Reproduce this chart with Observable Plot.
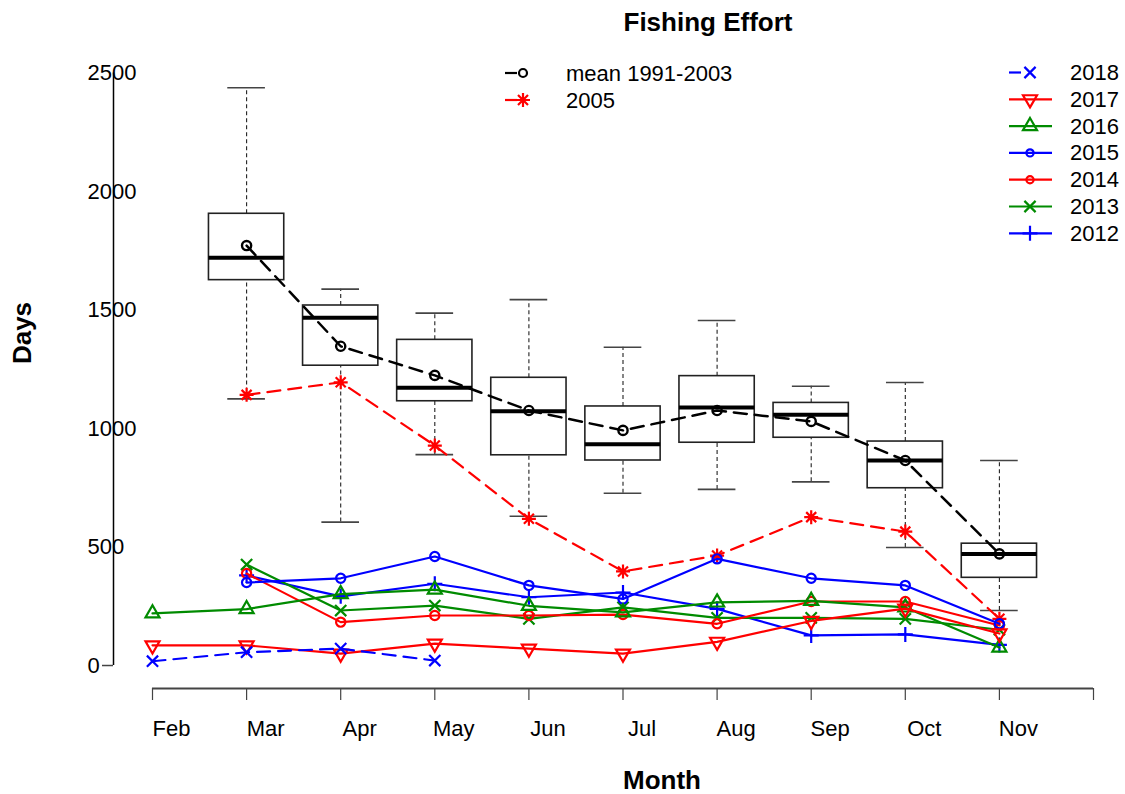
<!DOCTYPE html>
<html><head><meta charset="utf-8">
<script src="https://cdn.jsdelivr.net/npm/d3@7"></script>
<script src="https://cdn.jsdelivr.net/npm/@observablehq/plot@0.6"></script>
<style>
html,body{margin:0;padding:0;background:#fff;}
#wrap{position:relative;width:1125px;height:794px;overflow:hidden;}
#wrap svg{position:absolute;left:0;top:0;}
</style></head><body><div id="wrap"></div>
<script>
// ---------- data ----------
const months = ["Feb","Mar","Apr","May","Jun","Jul","Aug","Sep","Oct","Nov"];
const boxMonths = ["Mar","Apr","May","Jun","Jul","Aug","Sep","Oct","Nov"];
const boxMin    = [1125, 605, 890, 630, 727, 743, 775, 498, 232];
const boxQ1     = [1626,1265,1115, 887, 865, 940, 961, 748, 370];
const boxMedian = [1720,1467,1172,1073, 934,1089,1058, 865, 471];
const boxQ3     = [1906,1519,1374,1214,1093,1221,1108, 945, 514];
const boxMax    = [2438,1588,1487,1544,1343,1456,1178,1194, 865];
const mean9103  = [1772,1347,1224,1076, 992,1076,1030, 865, 471];
const effort2005= [1142,1195, 928, 619, 397, 464, 626, 565, 197];
// Feb..Nov
const effort2018 = [18, 56, 71, 21, null, null, null, null, null, null];
const effort2017 = [85, 85, 50, 92, 71, 50, 100, 188, 240, 135];
const effort2016 = [220, 238, 301, 320, 252, 224, 266, 273, 245, 76];
const effort2015 = [null, 350, 368, 460, 338, 281, 450, 368, 338, 176];
const effort2014 = [null, 388, 183, 211, 211, 215, 176, 270, 270, 169];
const effort2013 = [null, 426, 232, 253, 197, 245, 201, 201, 197, 151];
const effort2012 = [null, 380, 292, 345, 288, 308, 239, 127, 131, 87];
const yTickValues = [0, 500, 1000, 1500, 2000, 2500];
const xTickValues = [1,2,3,4,5,6,7,8,9,10,11];

// ---------- styles ----------
const FONT = "'Liberation Sans', Arial, Helvetica, sans-serif";
const BLUE = "#0000FF", RED = "#FF0000", GREEN = "#008B00";
const W = 1125, H = 794, ML = 152, MR = 32, MT = 72.5, MB = 106;
const pxPerX = (W - ML - MR) / 10;
const boxW = 0.40, capW = 0.20;
const yAxisX = 1 - 39 / pxPerX;
const yBottom = -97;

// ---------- symbols ----------
const symTriUp = {draw(c){ const r=8.1, h=r*Math.sqrt(3)/2; c.moveTo(0,-r); c.lineTo(h,r/2); c.lineTo(-h,r/2); c.closePath(); }};
const symTriDown = {draw(c){ const r=8.1, h=r*Math.sqrt(3)/2; c.moveTo(0,r); c.lineTo(h,-r/2); c.lineTo(-h,-r/2); c.closePath(); }};
const symPlus = {draw(c){ const a=7.5; c.moveTo(-a,0); c.lineTo(a,0); c.moveTo(0,-a); c.lineTo(0,a); }};
const symTimes = {draw(c){ const a=5.6; c.moveTo(-a,-a); c.lineTo(a,a); c.moveTo(-a,a); c.lineTo(a,-a); }};
const symAster = {draw(c){ const a=7, b=5; c.moveTo(-a,0); c.lineTo(a,0); c.moveTo(0,-a); c.lineTo(0,a); c.moveTo(-b,-b); c.lineTo(b,b); c.moveTo(-b,b); c.lineTo(b,-b); }};
const symCircle = r => ({draw(c){ c.moveTo(r,0); c.arc(0,0,r,0,2*Math.PI); }});

const series = [
  {name:"2012", values: effort2012, color: BLUE,  dash: null, symbol: symPlus},
  {name:"2013", values: effort2013, color: GREEN, dash: null, symbol: symTimes},
  {name:"2014", values: effort2014, color: RED,   dash: null, symbol: symCircle(4.6)},
  {name:"2015", values: effort2015, color: BLUE,  dash: null, symbol: symCircle(4.6)},
  {name:"2016", values: effort2016, color: GREEN, dash: null, symbol: symTriUp},
  {name:"2017", values: effort2017, color: RED,   dash: null, symbol: symTriDown},
  {name:"2018", values: effort2018, color: BLUE,  dash: "13,8", symbol: symTimes}
];

// ---------- tables ----------
const boxData = boxMonths.map((m, i) => ({
  m: months.indexOf(m) + 1, min: boxMin[i], q1: boxQ1[i], med: boxMedian[i],
  q3: boxQ3[i], max: boxMax[i], mean: mean9103[i], e2005: effort2005[i]
}));

const seriesMarks = series.flatMap(s => {
  const pts = s.values.map((v, i) => ({m: i + 1, v})).filter(d => d.v != null);
  return [
    Plot.line(pts, {x: "m", y: "v", stroke: s.color, strokeWidth: 2.2, strokeDasharray: s.dash ?? undefined}),
    Plot.dot(pts, {x: "m", y: "v", symbol: s.symbol, stroke: s.color, fill: "none", strokeWidth: 2.2})
  ];
});

const chart = Plot.plot({
  width: W, height: H,
  marginLeft: ML, marginRight: MR, marginTop: MT, marginBottom: MB,
  x: {domain: [1, 11], axis: null, label: null},
  y: {domain: [yBottom, 2500], axis: null, label: null},
  style: {fontFamily: FONT, fontSize: "22px", background: "transparent", overflow: "visible"},
  marks: [
    // axes
    Plot.ruleY([yBottom], {x1: 1, x2: 11, stroke: "#444", strokeWidth: 2}),
    Plot.axisX({ticks: xTickValues, tickSize: 12, tickFormat: () => "", label: null, stroke: "#444", strokeWidth: 1.2}),
    Plot.axisX({ticks: xTickValues.slice(0, 10), tickSize: 0, tickPadding: 32, dx: 19, label: null,
      tickFormat: d => months[d - 1], fontSize: 22, fill: "black"}),
    Plot.ruleX([yAxisX], {y1: 0, y2: 2500, stroke: "black", strokeWidth: 1.5}),
    Plot.ruleY([0], {x1: yAxisX - 11 / pxPerX, x2: yAxisX, stroke: "#444", strokeWidth: 1.5}),
    Plot.text(yTickValues, {y: d => d, text: d => String(d), frameAnchor: "left", dx: -65,
      textAnchor: "start", fontSize: 22, fill: "black"}),
    // boxplots
    Plot.ruleX(boxData, {x: "m", y1: "q3", y2: "max", stroke: "#222", strokeWidth: 1.1, strokeDasharray: "4,3"}),
    Plot.ruleX(boxData, {x: "m", y1: "min", y2: "q1", stroke: "#222", strokeWidth: 1.1, strokeDasharray: "4,3"}),
    Plot.ruleY(boxData, {y: "max", x1: d => d.m - capW, x2: d => d.m + capW, stroke: "#444", strokeWidth: 1.6}),
    Plot.ruleY(boxData, {y: "min", x1: d => d.m - capW, x2: d => d.m + capW, stroke: "#444", strokeWidth: 1.6}),
    Plot.rect(boxData, {x1: d => d.m - boxW, x2: d => d.m + boxW, y1: "q1", y2: "q3",
      fill: "white", stroke: "#222", strokeWidth: 1.6}),
    Plot.ruleY(boxData, {y: "med", x1: d => d.m - boxW, x2: d => d.m + boxW, stroke: "black", strokeWidth: 4}),
    // mean line
    Plot.line(boxData, {x: "m", y: "mean", stroke: "black", strokeWidth: 2.5, strokeDasharray: "13,8"}),
    Plot.dot(boxData, {x: "m", y: "mean", r: 4.6, stroke: "black", fill: "none", strokeWidth: 2.4}),
    // 2005
    Plot.line(boxData, {x: "m", y: "e2005", stroke: RED, strokeWidth: 2.2, strokeDasharray: "13,8"}),
    Plot.dot(boxData, {x: "m", y: "e2005", symbol: symAster, stroke: RED, fill: "none", strokeWidth: 2.2}),
    ...seriesMarks
  ]
});

const wrap = document.getElementById("wrap");
wrap.appendChild(chart);

// ---------- overlay: titles and legends ----------
const ov = d3.select(wrap).append("svg")
  .attr("width", W).attr("height", H)
  .style("pointer-events", "none")
  .style("font-family", FONT);

ov.append("text").attr("x", 708).attr("y", 22).attr("text-anchor", "middle")
  .attr("dominant-baseline", "central").attr("font-weight", "bold").attr("font-size", 26)
  .text("Fishing Effort");
ov.append("text").attr("x", 662).attr("y", 780).attr("text-anchor", "middle")
  .attr("dominant-baseline", "central").attr("font-weight", "bold").attr("font-size", 26)
  .text("Month");
ov.append("text").attr("transform", "translate(22,333) rotate(-90)").attr("text-anchor", "middle")
  .attr("dominant-baseline", "central").attr("font-weight", "bold").attr("font-size", 26)
  .text("Days");

function legendItem(x1, x2, xs, xt, y, color, dashed, sym, label, sw) {
  const g = ov.append("g");
  g.append("line").attr("x1", x1).attr("x2", dashed ? x1 + 12 : x2).attr("y1", y).attr("y2", y)
    .attr("stroke", color).attr("stroke-width", sw);
  g.append("path").attr("d", d3.symbol(sym, 64)()).attr("transform", `translate(${xs},${y})`)
    .attr("fill", "none").attr("stroke", color).attr("stroke-width", sw);
  g.append("text").attr("x", xt).attr("y", y).attr("dominant-baseline", "central")
    .attr("font-size", 22).attr("fill", "black").text(label);
}

const topLegend = [
  {label: "mean 1991-2003", color: "black", dashed: true, symbol: symCircle(4)},
  {label: "2005", color: RED, dashed: true, symbol: symAster}
];
topLegend.forEach((d, i) => legendItem(505, 541, 523, 566, 73 + i * 27, d.color, d.dashed, d.symbol, d.label, 2.2));

const rightLegend = [...series].reverse().map(s => ({
  label: s.name, color: s.color, dashed: !!s.dash,
  symbol: (s.name === "2014" || s.name === "2015") ? symCircle(3.6) : s.symbol
}));
rightLegend.forEach((d, i) => legendItem(1009, 1052, 1030, 1070, 72.5 + i * 26.8, d.color, d.dashed, d.symbol, d.label, 2.2));
</script></body></html>
